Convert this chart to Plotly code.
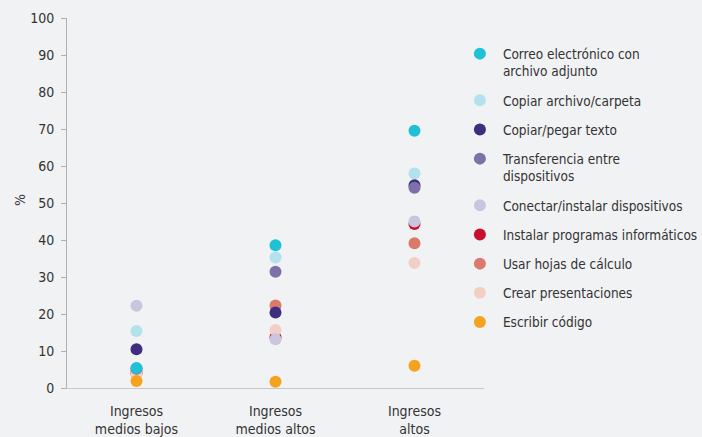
import plotly.graph_objects as go

categories = ["Ingresos<br>medios bajos", "Ingresos<br>medios altos", "Ingresos<br>altos"]

series_names = [
    "Correo electrónico con<br>archivo adjunto",
    "Copiar archivo/carpeta",
    "Copiar/pegar texto",
    "Transferencia entre<br>dispositivos",
    "Conectar/instalar dispositivos",
    "Instalar programas informáticos",
    "Usar hojas de cálculo",
    "Crear presentaciones",
    "Escribir código",
]

correo = [5.4, 38.6, 69.5]
copiar_archivo = [15.4, 35.3, 58.0]
copiar_pegar = [10.5, 20.4, 54.8]
transferencia = [5.2, 31.4, 54.1]
conectar = [22.2, 13.2, 45.0]
instalar = [4.0, 13.7, 44.3]
hojas = [4.6, 22.3, 39.1]
presentaciones = [3.8, 15.7, 33.8]
codigo = [1.9, 1.7, 6.0]

colors = ["#1ec1d6", "#b3e2ee", "#3f2e7f", "#7e70a8", "#c9c5de",
          "#c8102e", "#db7a6b", "#f2cfc4", "#f5a21e"]

values = [correo, copiar_archivo, copiar_pegar, transferencia, conectar,
          instalar, hojas, presentaciones, codigo]

draw_order = [5, 6, 7, 1, 2, 3, 4, 0, 8]

font_family = "Liberation Sans Narrow, DejaVu Sans Condensed, Roboto, sans-serif"

fig = go.Figure()
for i in draw_order:
    fig.add_trace(go.Scatter(
        x=categories, y=values[i], mode="markers", name=series_names[i],
        marker=dict(size=12, color=colors[i], line=dict(width=0)),
        legendrank=i + 1, legendgroup=str(i),
    ))

fig.update_layout(
    width=702, height=437,
    paper_bgcolor="#f1f2f4", plot_bgcolor="#f1f2f4",
    margin=dict(l=67, r=218, t=18, b=49, autoexpand=False),
    font=dict(family=font_family, size=14, color="#333333"),
    legend=dict(x=0.935, y=0.945, xanchor="left", yanchor="top", valign="top",
                font=dict(size=13.5, color="#333333"), tracegroupgap=8.6,
                itemwidth=36,
                bgcolor="rgba(0,0,0,0)", itemclick=False),
    xaxis=dict(type="category", range=[-0.5, 2.5], showgrid=False,
               showline=True, linecolor="#c8c8c8", linewidth=1,
               ticks="outside", ticklen=10, tickcolor="rgba(0,0,0,0)",
               zeroline=False, fixedrange=True),
    yaxis=dict(range=[0, 100], dtick=10, showgrid=False, zeroline=False,
               showline=True, linecolor="#b0b0b0", linewidth=1,
               ticks="outside", ticklen=5, tickcolor="#b0b0b0",
               ticklabelstandoff=4, fixedrange=True),
    annotations=[dict(text="%", xref="paper", yref="paper", x=-0.1127, y=0.508,
                      xanchor="center", yanchor="middle", textangle=-90,
                      showarrow=False, font=dict(size=14, color="#333333"))],
)

fig.write_html("out.html", config={"displayModeBar": False},
               post_script="document.body.style.margin='0';document.body.style.background='#f1f2f4';")
